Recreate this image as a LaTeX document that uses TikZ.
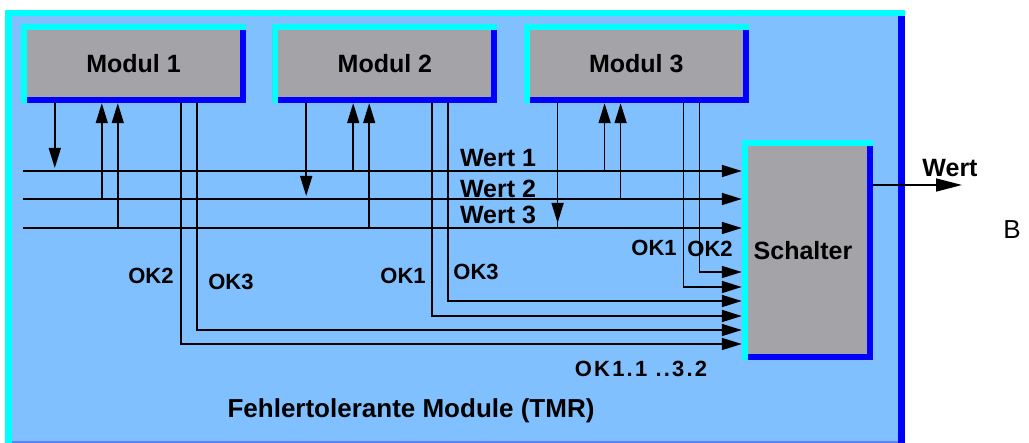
\documentclass[tikz,border=0pt]{standalone}
\usepackage{fontspec}
\setmainfont{Liberation Sans}
\definecolor{tmrbg}{RGB}{128,192,255}
\definecolor{tmrcyan}{RGB}{0,255,255}
\definecolor{tmrblue}{RGB}{0,0,255}
\definecolor{tmredge}{RGB}{96,128,255}
\definecolor{modgray}{RGB}{164,164,168}
\usetikzlibrary{arrows.meta, positioning, calc}
\tikzset{
	tmrbox/.style={draw=none, fill=modgray, inner sep=0pt, font=\fontsize{25}{28}\selectfont\bfseries, path picture={
		\fill[tmrcyan] (path picture bounding box.north west) rectangle ([xshift=6pt]path picture bounding box.south west);
		\fill[tmrcyan] (path picture bounding box.north west) rectangle ([yshift=-6pt]path picture bounding box.north east);
		\fill[tmrblue] ([yshift=-6pt]path picture bounding box.north east) rectangle ([xshift=-6pt]path picture bounding box.south east);
		\fill[tmrblue] ([xshift=6pt]path picture bounding box.south west) rectangle ([yshift=6pt]path picture bounding box.south east);
	}},
	modul/.style={tmrbox, minimum width=225pt, minimum height=79pt},
	switchbox/.style={tmrbox, minimum width=131pt, minimum height=220pt},
	wire/.style={line width=1.6pt, draw=black},
	arrowed/.style={-{Triangle[length=20pt, width=12pt]}},
	lbl/.style={inner sep=0pt, font=\fontsize{25}{28}\selectfont\bfseries},
	oklbl/.style={inner sep=0pt, font=\fontsize{22}{25}\selectfont\bfseries},
}
\begin{document}
\begin{tikzpicture}[x=1pt, y=-1pt, node distance=26pt]
	\useasboundingbox (0,0) rectangle (1029,443);
	\fill[tmrbg] (5,10) rectangle (905,443);
	\fill[tmrcyan] (5,10) rectangle (905,16);
	\fill[tmrcyan] (5,10) rectangle (12,443);
	\fill[tmrblue] (898,16) rectangle (905,443);
	\draw[tmredge, line width=1.5pt] (12,442) -- (898,442);

	\node[modul] (m1) at (133.5,63.5) {Modul 1};
	\node[modul, right=of m1] (m2) {Modul 2};
	\node[modul, right=of m2] (m3) {Modul 3};
	\node[switchbox] (sch) at (807.5,250) {};
	\node[lbl] at (803,251) {Schalter};

	\coordinate (w1s) at (23,171);
	\coordinate (w2s) at (23,199);
	\coordinate (w3s) at (23,228);
	\coordinate (k1) at (0,272);
	\coordinate (k2) at (0,287);
	\coordinate (k3) at (0,301);
	\coordinate (k4) at (0,316);
	\coordinate (k5) at (0,330);
	\coordinate (k6) at (0,344);
	\coordinate (out) at (962,185);
	\foreach \m in {1,2,3} {
		\coordinate (m\m d) at ([xshift=34pt]m\m.south west);
		\coordinate (m\m a) at ([xshift=81pt]m\m.south west);
		\coordinate (m\m b) at ([xshift=97pt]m\m.south west);
		\coordinate (m\m o) at ([xshift=160pt]m\m.south west);
		\coordinate (m\m p) at ([xshift=176pt]m\m.south west);
	}

	\foreach \w in {w1s,w2s,w3s}
		\draw[wire, arrowed] (\w) -- (\w -| sch.west);

	\draw[wire, arrowed, shorten >=3pt] (m1d) -- (m1d |- w1s);
	\draw[wire, arrowed] (m1a |- w2s) -- (m1a);
	\draw[wire, arrowed] (m1b |- w3s) -- (m1b);
	\draw[wire, arrowed, shorten >=3pt] (m2d) -- (m2d |- w2s);
	\draw[wire, arrowed] (m2a |- w1s) -- (m2a);
	\draw[wire, arrowed] (m2b |- w3s) -- (m2b);
	\draw[wire, arrowed, shorten >=5pt] (m3d) -- (m3d |- w3s);
	\draw[wire] (m3d) -- (m3d |- w3s);
	\draw[wire, arrowed] (m3a |- w1s) -- (m3a);
	\draw[wire, arrowed] (m3b |- w2s) -- (m3b);

	\draw[wire, arrowed] (m3p) |- (k1 -| sch.west);
	\draw[wire, arrowed] (m3o) |- (k2 -| sch.west);
	\draw[wire, arrowed] (m2p) |- (k3 -| sch.west);
	\draw[wire, arrowed] (m2o) |- (k4 -| sch.west);
	\draw[wire, arrowed] (m1p) |- (k5 -| sch.west);
	\draw[wire, arrowed] (m1o) |- (k6 -| sch.west);

	\draw[wire, -{Triangle[length=26pt, width=13pt]}] (sch.east |- out) -- (out);

	\node[lbl] at (498,158) {Wert 1};
	\node[lbl] at (498,189) {Wert 2};
	\node[lbl] at (498,215) {Wert 3};
	\node[lbl] at (950,168) {Wert};
	\node[oklbl] at (151,276) {OK2};
	\node[oklbl] at (231,282) {OK3};
	\node[oklbl] at (403,276) {OK1};
	\node[oklbl] at (476,272) {OK3};
	\node[oklbl] at (654,248) {OK1};
	\node[oklbl] at (710,249) {OK2};
	\node[oklbl, font=\fontsize{22}{25}\selectfont\bfseries\addfontfeature{LetterSpace=10}] at (641,369) {OK1.1 ..3.2};
	\node[lbl, font=\fontsize{26}{29}\selectfont\bfseries] at (411,411) {Fehlertolerante Module (TMR)};
	\node[inner sep=0pt, font=\fontsize{26}{29}\selectfont] at (1012,230) {B};
\end{tikzpicture}
\end{document}
